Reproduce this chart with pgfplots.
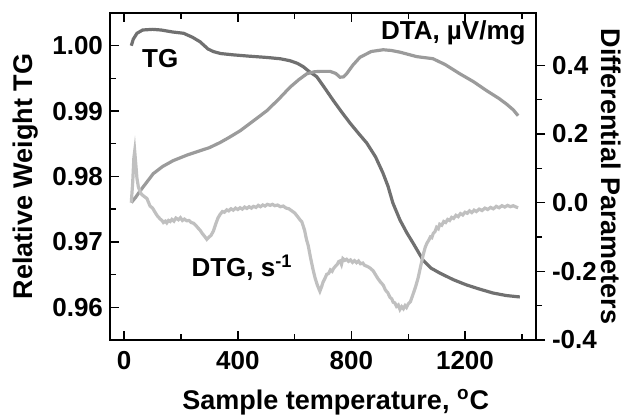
\documentclass[border=0pt]{standalone}
\usepackage{fontspec}
\setmainfont{Liberation Sans}
\usepackage{pgfplots}
\pgfplotsset{compat=1.18}
\usetikzlibrary{calc}

\definecolor{tgc}{RGB}{112,112,112}
\definecolor{dtac}{RGB}{155,155,155}
\definecolor{dtgc}{RGB}{192,192,192}

\pgfplotsset{
  common/.style={
    scale only axis, width=213pt, height=163.5pt,
    xmin=-50, xmax=1450,
    axis line style={line width=0.8pt},
    tick style={line width=0.7pt, black},
    major tick length=4.5pt, minor tick length=3pt,
    tick label style={font=\fontsize{13}{15}\selectfont\bfseries},
    label style={font=\fontsize{13.5}{15}\selectfont\bfseries, inner sep=0pt},
    /pgf/number format/assume math mode=true,
  }
}

\begin{document}
\begin{tikzpicture}
\begin{axis}[common,
  ymin=0.955, ymax=1.005,
  xtick={0,400,800,1200}, minor xtick={200,600,1000,1400},
  ytick={0.96,0.97,0.98,0.99,1.00},
  minor ytick={0.965,0.975,0.985,0.995},
  yticklabel style={/pgf/number format/.cd, fixed, fixed zerofill, precision=2},
  xticklabel style={yshift=-2pt, /pgf/number format/.cd, fixed, set thousands separator={}},
  tick align=inside, ytick pos=left, xtick pos=both,
  xlabel={Sample temperature, \textsuperscript{o}C},
  xlabel style={at={(axis description cs:0.53,-0.214)}, anchor=base},
  ylabel={Relative Weight TG},
  ylabel style={at={(axis description cs:-0.197,0.5)}, anchor=center},
]
\addplot[tgc, line width=1.6pt] coordinates {
(25,1.0000)(32,1.0010)(45,1.0019)(65,1.0024)(100,1.0025)(130,1.0024)
(170,1.0021)(209,1.0019)(240,1.0013)(267,1.0006)(295,0.9995)(314,0.9991)
(340,0.9988)(384,0.9986)(440,0.9984)(503,0.9982)(550,0.9980)(584,0.9977)
(610,0.9973)(630,0.9968)(650,0.9961)(678,0.99526)(705,0.9936)(735,0.9917)
(765,0.9899)(795,0.98818)(825,0.9866)(854,0.98512)(885,0.9830)(911,0.98054)
(929,0.9785)(946,0.97595)(971,0.97335)(995,0.9714)(1017,0.96983)(1052,0.96723)
(1080,0.9660)(1111,0.96524)(1160,0.9642)(1206,0.96341)(1250,0.9628)
(1298,0.96219)(1345,0.9618)(1393,0.96158)
};
\node[font=\fontsize{13}{15}\selectfont\bfseries] at (axis cs:127,0.9981) {TG};
\node[font=\fontsize{13}{15}\selectfont\bfseries, anchor=east] at (axis cs:1438,1.0019) {DTA, µV/mg};
\node[font=\fontsize{13}{15}\selectfont\bfseries] at (axis cs:415,0.9660) {DTG, s\textsuperscript{-1}};
\end{axis}
\begin{axis}[common,
  ymin=-0.4, ymax=0.552,
  axis x line=none, axis y line*=right,
  ytick={-0.4,-0.2,0,0.2,0.4},
  minor ytick={-0.3,-0.1,0.1,0.3},
  yticklabel style={/pgf/number format/.cd, fixed, fixed zerofill, precision=1},
  tick align=outside,
  ylabel={Differential Parameters},
  ylabel style={at={(axis description cs:1.176,0.5)}, anchor=center, rotate=180},
]
\addplot[dtac, line width=1.6pt] coordinates {
(25,0.000)(40,0.015)(56,0.034)(80,0.060)(102,0.084)(135,0.105)(172,0.122)
(220,0.138)(267,0.151)(300,0.160)(338,0.175)(370,0.190)(408,0.209)(455,0.238)
(503,0.268)(545,0.302)(584,0.336)(615,0.358)(643,0.375)(670,0.381)(689,0.382)
(725,0.382)(745,0.376)(760,0.365)(772,0.366)(783,0.375)(805,0.400)(830,0.423)
(870,0.440)(912,0.445)(940,0.443)(971,0.438)(1030,0.425)(1087,0.419)
(1130,0.402)(1182,0.375)(1230,0.352)(1276,0.326)(1320,0.303)(1346,0.287)
(1370,0.270)(1387,0.253)
};
\addplot[dtgc, line width=1.6pt] coordinates {
(25,0.000)(30,0.060)(34,0.130)(37,0.150)(40,0.120)(45,0.070)(50,0.045)
(60,0.025)(70,0.018)(80,0.012)(91,-0.010)(100,-0.016)(110,-0.030)(118,-0.040)
(127,-0.048)(133,-0.052)(138,-0.058)(145,-0.054)(150,-0.059)(156,-0.052)
(162,-0.055)(168,-0.049)(175,-0.054)(182,-0.045)(191,-0.050)(198,-0.044)
(205,-0.052)(212,-0.048)(220,-0.053)(228,-0.052)(236,-0.058)(244,-0.060)
(252,-0.066)(260,-0.074)(267,-0.080)(275,-0.090)(282,-0.097)(291,-0.107)
(298,-0.101)(306,-0.095)(314,-0.083)(322,-0.063)(330,-0.045)(338,-0.034)
(346,-0.026)(353,-0.028)(361,-0.021)(368,-0.024)(376,-0.018)(384,-0.022)
(392,-0.016)(400,-0.020)(408,-0.015)(416,-0.019)(424,-0.013)(432,-0.017)
(440,-0.012)(448,-0.016)(455,-0.011)(464,-0.014)(472,-0.008)(480,-0.012)
(488,-0.007)(496,-0.010)(504,-0.005)(514,-0.008)(522,-0.005)(530,-0.009)
(540,-0.007)(550,-0.012)(560,-0.010)(570,-0.016)(580,-0.018)(590,-0.024)
(600,-0.030)(610,-0.040)(619,-0.050)(625,-0.055)(635,-0.080)(642,-0.108)
(648,-0.125)(656,-0.160)(665,-0.195)(672,-0.219)(680,-0.240)(689,-0.258)
(695,-0.245)(700,-0.232)(706,-0.222)(713,-0.209)(720,-0.206)(726,-0.196)
(732,-0.200)(737,-0.192)(744,-0.185)(750,-0.180)(755,-0.172)(760,-0.170)
(765,-0.180)(770,-0.163)(777,-0.168)(783,-0.165)(790,-0.171)(797,-0.167)
(804,-0.174)(811,-0.169)(818,-0.175)(825,-0.170)(832,-0.178)(840,-0.176)
(847,-0.183)(854,-0.185)(861,-0.188)(868,-0.192)(877,-0.199)(885,-0.210)
(894,-0.222)(903,-0.232)(912,-0.240)(920,-0.255)(928,-0.262)(936,-0.276)
(942,-0.280)(947,-0.290)(953,-0.292)(959,-0.302)(965,-0.298)(971,-0.311)
(977,-0.303)(983,-0.309)(989,-0.300)(994,-0.305)(1000,-0.295)(1008,-0.288)
(1017,-0.267)(1026,-0.245)(1035,-0.219)(1044,-0.185)(1053,-0.151)
(1060,-0.130)(1066,-0.118)(1072,-0.110)(1078,-0.100)(1083,-0.102)
(1088,-0.090)(1094,-0.085)(1100,-0.072)(1106,-0.076)(1111,-0.063)
(1118,-0.066)(1125,-0.055)(1132,-0.058)(1139,-0.049)(1146,-0.052)
(1153,-0.043)(1160,-0.046)(1168,-0.037)(1176,-0.041)(1184,-0.032)
(1192,-0.036)(1200,-0.028)(1208,-0.031)(1216,-0.024)(1224,-0.029)
(1232,-0.022)(1240,-0.026)(1250,-0.019)(1260,-0.023)(1270,-0.016)
(1280,-0.020)(1290,-0.014)(1300,-0.018)(1310,-0.011)(1320,-0.015)
(1330,-0.009)(1340,-0.013)(1350,-0.008)(1360,-0.012)(1370,-0.009)
(1380,-0.013)(1387,-0.015)
};
\end{axis}
\path ($(current axis.south west)+(-55pt,-38.5pt)$) rectangle ($(current axis.south west)+(258pt,170pt)$);
\end{tikzpicture}
\end{document}
